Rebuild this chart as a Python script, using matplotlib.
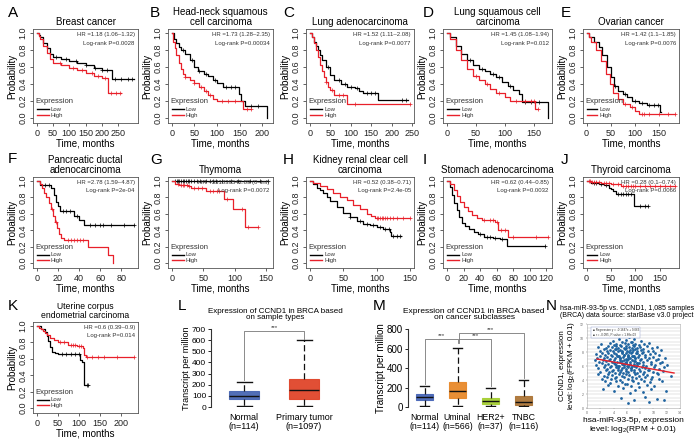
import numpy as np
import matplotlib
matplotlib.use("Agg")
import matplotlib.pyplot as plt

plt.rcParams['font.family'] = ['Liberation Sans', 'DejaVu Sans']
plt.rcParams['mathtext.fontset'] = 'custom'
plt.rcParams['mathtext.rm'] = 'Liberation Sans'

W, H = 695, 440
LOW_C = '#000000'
HIGH_C = '#e8202a'

# ---------------- KM data (time, survival steps, censor times) ----------------
breast_low_t = [0, 5, 10, 20, 30, 40, 50, 75, 100, 125, 150, 175, 200, 232, 300]
breast_low_s = [1, 0.98, 0.95, 0.88, 0.82, 0.76, 0.72, 0.69, 0.67, 0.645, 0.62, 0.59, 0.56, 0.46, 0.46]
breast_low_c = [60, 90, 120, 150, 180, 200, 215, 240, 260, 280, 295]
breast_high_t = [0, 5, 10, 20, 30, 40, 50, 75, 100, 125, 150, 175, 200, 218, 258]
breast_high_s = [1, 0.97, 0.93, 0.85, 0.77, 0.70, 0.65, 0.62, 0.59, 0.56, 0.53, 0.50, 0.47, 0.30, 0.30]
breast_high_c = [70, 110, 140, 170, 190, 210, 230, 245, 255]

hn_low_t = [0, 5, 10, 15, 20, 30, 40, 50, 58, 70, 80, 90, 100, 112, 148, 153, 162, 210]
hn_low_s = [1, 0.93, 0.88, 0.84, 0.80, 0.75, 0.68, 0.60, 0.55, 0.52, 0.49, 0.45, 0.41, 0.36, 0.28, 0.20, 0.14, 0.0]
hn_low_c = [25, 45, 60, 75, 95, 120, 130, 140, 175, 190]
hn_high_t = [0, 3, 6, 10, 15, 20, 25, 30, 40, 50, 60, 70, 80, 90, 100, 157, 175]
hn_high_s = [1, 0.90, 0.82, 0.74, 0.65, 0.58, 0.52, 0.48, 0.45, 0.41, 0.36, 0.32, 0.27, 0.22, 0.20, 0.10, 0.10]
hn_high_c = [30, 50, 65, 75, 85, 110, 125, 140, 165, 175]

luad_low_t = [0, 5, 10, 15, 20, 25, 30, 40, 50, 60, 75, 90, 110, 120, 130, 167, 240]
luad_low_s = [1, 0.95, 0.90, 0.85, 0.80, 0.74, 0.68, 0.60, 0.51, 0.45, 0.40, 0.37, 0.35, 0.32, 0.29, 0.21, 0.21]
luad_low_c = [45, 70, 85, 100, 115, 140, 150, 160, 225, 235]
luad_high_t = [0, 5, 10, 15, 20, 25, 30, 35, 40, 45, 50, 58, 90, 245]
luad_high_s = [1, 0.95, 0.88, 0.80, 0.72, 0.63, 0.55, 0.48, 0.42, 0.37, 0.33, 0.27, 0.17, 0.17]
luad_high_c = [40, 55, 70, 80, 110, 245]

lusc_low_t = [0, 5, 15, 25, 35, 45, 55, 65, 75, 85, 95, 105, 115, 125, 130, 175]
lusc_low_s = [1, 0.95, 0.85, 0.76, 0.68, 0.62, 0.58, 0.55, 0.52, 0.48, 0.43, 0.38, 0.33, 0.28, 0.19, 0.0]
lusc_low_c = [40, 60, 80, 90, 110, 135, 145, 160]
lusc_high_t = [0, 5, 15, 25, 35, 45, 55, 65, 75, 85, 100, 110, 152, 157]
lusc_high_s = [1, 0.93, 0.80, 0.68, 0.58, 0.50, 0.45, 0.40, 0.34, 0.29, 0.25, 0.20, 0.10, 0.10]
lusc_high_c = [50, 70, 90, 120, 135, 145, 150, 157]

ov_low_t = [0, 5, 15, 25, 33, 42, 50, 58, 65, 75, 85, 95, 110, 125, 152, 155]
ov_low_s = [1, 0.96, 0.90, 0.84, 0.74, 0.60, 0.48, 0.38, 0.32, 0.28, 0.25, 0.20, 0.18, 0.15, 0.07, 0.07]
ov_low_c = [60, 80, 100, 115, 130, 140, 148]
ov_high_t = [0, 5, 10, 20, 30, 40, 48, 55, 65, 75, 90, 100, 110, 185]
ov_high_s = [1, 0.96, 0.90, 0.80, 0.67, 0.52, 0.40, 0.30, 0.22, 0.17, 0.13, 0.08, 0.05, 0.05]
ov_high_c = [80, 95, 115, 120, 130, 150, 170, 185]

pa_low_t = [0, 3, 13, 16, 18, 20, 22, 35, 40, 45, 92]
pa_low_s = [1, 0.95, 0.91, 0.83, 0.75, 0.70, 0.64, 0.58, 0.52, 0.46, 0.46]
pa_low_c = [8, 11, 25, 28, 31, 38, 50, 55, 60, 63, 70, 82, 92]
pa_high_t = [0, 3, 5, 7, 9, 11, 13, 15, 17, 19, 21, 23, 26, 48, 67, 72]
pa_high_s = [1, 0.96, 0.91, 0.86, 0.80, 0.73, 0.66, 0.58, 0.50, 0.43, 0.36, 0.31, 0.28, 0.20, 0.10, 0.0]
pa_high_c = [14, 18, 29, 32, 35, 38, 41, 44]

thy_low_t = [0, 153]
thy_low_s = [1, 1]
thy_low_c = [5, 8, 10, 12, 15, 17, 20, 22, 25, 28, 30, 35, 40, 45, 55, 60, 65, 70, 80, 95, 105, 125, 140, 153]
thy_high_t = [0, 5, 12, 25, 30, 55, 83, 97, 117, 137]
thy_high_s = [1, 0.97, 0.95, 0.94, 0.92, 0.88, 0.78, 0.66, 0.44, 0.44]
thy_high_c = [10, 15, 18, 20, 24, 28, 35, 42, 48, 60, 65, 72, 75, 88, 112, 122, 137]

kid_low_t = [0, 5, 10, 15, 20, 25, 30, 40, 50, 60, 70, 80, 90, 100, 110, 120, 122, 137]
kid_low_s = [1, 0.96, 0.92, 0.89, 0.85, 0.80, 0.76, 0.68, 0.61, 0.56, 0.51, 0.48, 0.46, 0.44, 0.42, 0.38, 0.33, 0.33]
kid_low_c = [60, 75, 85, 95, 105, 112, 118, 125, 130, 135]
kid_high_t = [0, 5, 15, 25, 35, 45, 55, 65, 75, 85, 92, 98, 150]
kid_high_s = [1, 0.98, 0.94, 0.90, 0.86, 0.81, 0.77, 0.71, 0.66, 0.60, 0.57, 0.55, 0.55]
kid_high_c = [100, 102, 105, 108, 110, 113, 116, 120, 125, 130, 140, 150]

sto_low_t = [0, 3, 6, 9, 12, 15, 18, 22, 27, 32, 38, 45, 55, 64, 72, 118]
sto_low_s = [1, 0.93, 0.83, 0.73, 0.65, 0.56, 0.49, 0.45, 0.42, 0.38, 0.35, 0.32, 0.31, 0.29, 0.21, 0.21]
sto_low_c = [40, 48, 52, 58, 66, 118]
sto_high_t = [0, 4, 8, 12, 16, 20, 25, 30, 36, 42, 50, 58, 62, 74, 122]
sto_high_s = [1, 0.96, 0.89, 0.82, 0.75, 0.69, 0.63, 0.59, 0.55, 0.53, 0.52, 0.50, 0.40, 0.32, 0.32]
sto_high_c = [45, 52, 55, 60, 65, 70, 80, 108, 122]

thc_low_t = [0, 10, 25, 35, 45, 50, 55, 60, 98, 125]
thc_low_s = [1, 0.98, 0.97, 0.95, 0.92, 0.90, 0.88, 0.84, 0.70, 0.70]
thc_low_c = [15, 20, 30, 40, 65, 70, 75, 80, 85, 90, 110, 120, 125]
thc_high_t = [0, 10, 30, 50, 60, 70, 182]
thc_high_s = [1, 0.99, 0.98, 0.97, 0.96, 0.94, 0.94]
thc_high_c = [5, 8, 12, 15, 20, 25, 35, 40, 45, 55, 65, 75, 80, 85, 90, 95, 100, 110, 120,
              130, 140, 150, 160, 170, 182]

ut_low_t = [0, 10, 20, 23, 27, 31, 35, 42, 50, 103, 108, 111, 113, 122]
ut_low_s = [1, 0.97, 0.93, 0.88, 0.82, 0.75, 0.69, 0.67, 0.66, 0.59, 0.56, 0.45, 0.28, 0.28]
ut_low_c = [60, 70, 80, 90, 100, 118, 122]
ut_high_t = [0, 5, 10, 15, 20, 25, 30, 40, 50, 60, 75, 95, 110, 113, 116, 231]
ut_high_s = [1, 0.98, 0.96, 0.94, 0.92, 0.89, 0.86, 0.83, 0.81, 0.80, 0.77, 0.76, 0.73, 0.65, 0.62, 0.62]
ut_high_c = [55, 65, 80, 85, 90, 100, 105, 120, 130, 145, 160, 190, 231]

km_titles = ['Breast cancer', 'Head-neck squamous\ncell carcinoma', 'Lung adenocarcinoma',
             'Lung squamous cell\ncarcinoma', 'Ovarian cancer', 'Pancreatic ductal\nadenocarcinoma',
             'Thymoma', 'Kidney renal clear cell\ncarcinoma', 'Stomach adenocarcinoma',
             'Thyroid carcinoma', 'Uterine corpus\nendometrial carcinoma']
km_hr = ['HR =1.18 (1.06\u20131.32)', 'HR =1.73 (1.28\u20132.35)', 'HR =1.52 (1.11\u20132.08)',
         'HR =1.45 (1.08\u20131.94)', 'HR =1.42 (1.1\u20131.85)', 'HR =2.78 (1.59\u20134.87)',
         'HR =531839542.89 (0\u2013Inf)', 'HR =0.52 (0.38\u20130.71)', 'HR =0.62 (0.44\u20130.85)',
         'HR =0.28 (0.1\u20130.74)', 'HR =0.6 (0.39\u20130.9)']
km_p = ['Log-rank P=0.0028', 'Log-rank P=0.00034', 'Log-rank P=0.0077', 'Log-rank P=0.012',
        'Log-rank P=0.0076', 'Log-rank P=2e-04', 'Log-rank P=0.0072', 'Log-rank P=2.4e-05',
        'Log-rank P=0.0032', 'Log-rank P=0.0066', 'Log-rank P=0.014']
km_xmax = [300, 215, 245, 175, 185, 92, 155, 150, 122, 182, 231]
km_xstep = [50, 50, 50, 50, 50, 20, 50, 50, 20, 50, 50]
km_xtick_max = [250, 200, 250, 150, 150, 80, 150, 150, 120, 150, 200]
km_letters = ['A', 'B', 'C', 'D', 'E', 'F', 'G', 'H', 'I', 'J', 'K']

km_low = [(breast_low_t, breast_low_s, breast_low_c), (hn_low_t, hn_low_s, hn_low_c),
          (luad_low_t, luad_low_s, luad_low_c), (lusc_low_t, lusc_low_s, lusc_low_c),
          (ov_low_t, ov_low_s, ov_low_c), (pa_low_t, pa_low_s, pa_low_c),
          (thy_low_t, thy_low_s, thy_low_c), (kid_low_t, kid_low_s, kid_low_c),
          (sto_low_t, sto_low_s, sto_low_c), (thc_low_t, thc_low_s, thc_low_c),
          (ut_low_t, ut_low_s, ut_low_c)]
km_high = [(breast_high_t, breast_high_s, breast_high_c), (hn_high_t, hn_high_s, hn_high_c),
           (luad_high_t, luad_high_s, luad_high_c), (lusc_high_t, lusc_high_s, lusc_high_c),
           (ov_high_t, ov_high_s, ov_high_c), (pa_high_t, pa_high_s, pa_high_c),
           (thy_high_t, thy_high_s, thy_high_c), (kid_high_t, kid_high_s, kid_high_c),
           (sto_high_t, sto_high_s, sto_high_c), (thc_high_t, thc_high_s, thc_high_c),
           (ut_high_t, ut_high_s, ut_high_c)]

# ---------------- Box plot data ----------------
L_groups = ['Normal\n(n=114)', 'Primary tumor\n(n=1097)']
L_min = [12, 6]
L_q1 = [72, 75]
L_med = [102, 150]
L_q3 = [141, 250]
L_max = [228, 600]
L_colors = ['#4967b3', '#e0452a']

M_groups = ['Normal\n(n=114)', 'Uminal\n(n=566)', 'HER2+\n(n=37)', 'TNBC\n(n=116)']
M_min = [7, 7, 7, 7]
M_q1 = [68, 89, 31, 17]
M_med = [100, 168, 65, 56]
M_q3 = [137, 258, 89, 109]
M_max = [219, 608, 195, 278]
M_colors = ['#4967b8', '#e8892a', '#a6cf34', '#ad7638']

# ---------------- Scatter data (panel N) ----------------
mir_expr = [5.5, 6.3, 4.8, 7.0, 5.9, 3.9, 6.8, 8.1, 5.2,
            2.1, 3.5, 4.4, 5.0, 5.7, 6.2, 6.6, 7.3, 7.8, 8.6, 9.4, 4.0, 6.9,
            1.6, 2.8, 3.2, 3.8, 4.3, 4.7, 5.1, 5.5, 5.9, 6.3, 6.7, 7.1, 7.5, 8.0, 8.4, 9.0, 9.8, 10.5,
            1.9, 2.5, 3.0, 3.4, 3.9, 4.2, 4.6, 5.0, 5.3, 5.7, 6.0, 6.4, 6.8, 7.2, 7.6, 8.1, 8.5, 9.2, 9.9, 11.2,
            1.3, 2.2, 2.7, 3.1, 3.6, 4.0, 4.4, 4.8, 5.2, 5.6, 5.9, 6.2, 6.6, 7.0, 7.4, 7.8, 8.3, 8.8, 9.5, 10.2, 10.9,
            1.5, 2.0, 2.6, 3.0, 3.5, 3.8, 4.2, 4.6, 5.0, 5.4, 5.8, 6.1, 6.5, 6.9, 7.3, 7.7, 8.2, 8.7, 9.3, 10.0, 10.7, 11.8,
            1.2, 1.8, 2.4, 2.9, 3.3, 3.7, 4.1, 4.5, 4.9, 5.3, 5.7, 6.0, 6.4, 6.8, 7.2, 7.6, 8.0, 8.5, 9.1, 9.7, 10.4, 11.3,
            1.4, 2.2, 2.7, 3.1, 3.6, 4.0, 4.4, 4.8, 5.2, 5.6, 5.9, 6.3, 6.7, 7.1, 7.5, 7.9, 8.4, 8.9, 9.6, 10.3, 11.0, 12.1,
            1.7, 2.5, 3.0, 3.4, 3.9, 4.3, 4.7, 5.1, 5.5, 5.8, 6.2, 6.6, 7.0, 7.4, 7.8, 8.3, 8.8, 9.4, 10.1, 10.8, 11.6,
            2.0, 2.8, 3.3, 3.8, 4.2, 4.6, 5.0, 5.4, 5.8, 6.2, 6.6, 7.0, 7.5, 8.0, 8.6, 9.2, 9.9, 10.6, 11.5,
            1.6, 2.6, 3.2, 3.8, 4.3, 4.8, 5.3, 5.8, 6.3, 6.8, 7.3, 7.9, 8.5, 9.1, 9.8, 10.7, 12.6,
            2.2, 3.0, 3.6, 4.2, 4.9, 5.5, 6.1, 6.7, 7.4, 8.1, 8.8, 9.6, 10.9,
            2.7, 3.5, 4.4, 5.2, 6.0, 6.9, 7.7, 8.6, 9.5, 11.3,
            3.1, 4.6, 5.7, 6.6, 7.9, 9.0, 10.1,
            2.4, 4.0, 5.4, 6.4, 7.3, 8.4, 9.7, 11.9,
            5.1, 7.0, 8.8, 10.5, 6.2, 9.3, 11.6,
            4.5, 5.0, 5.6, 6.1, 6.7, 7.2, 4.2, 4.9, 5.4, 5.9, 6.5, 7.0, 7.6,
            4.4, 5.2, 5.8, 6.3, 6.9, 7.5, 4.7, 5.3, 6.0, 6.6, 7.1, 5.5, 6.2]
ccnd1_expr = [10.4, 10.1, 9.9, 9.8, 9.7, 9.6, 9.5, 9.6, 9.5,
              9.1, 9.3, 9.2, 9.0, 9.3, 9.1, 9.4, 9.2, 9.0, 9.1, 9.3, 9.0, 9.0,
              8.7, 8.6, 8.9, 8.7, 8.8, 8.6, 8.8, 8.6, 8.9, 8.7, 8.6, 8.8, 8.6, 8.7, 8.5, 8.8, 8.6, 8.7,
              8.2, 8.4, 8.1, 8.3, 8.2, 8.4, 8.1, 8.3, 8.0, 8.4, 8.1, 8.3, 8.0, 8.4, 8.2, 8.3, 8.0, 8.2, 8.1, 8.3,
              7.7, 7.9, 7.6, 7.8, 7.6, 7.9, 7.7, 7.5, 7.8, 7.6, 7.9, 7.6, 7.8, 7.5, 7.8, 7.6, 7.9, 7.6, 7.7, 7.9, 7.6,
              7.2, 7.4, 7.1, 7.3, 7.0, 7.4, 7.2, 7.4, 7.1, 7.3, 7.0, 7.4, 7.2, 7.4, 7.1, 7.3, 7.0, 7.3, 7.1, 7.3, 7.0, 7.2,
              6.8, 6.6, 6.9, 6.7, 6.9, 6.6, 6.8, 6.6, 6.9, 6.7, 6.5, 6.8, 6.6, 6.9, 6.7, 6.5, 6.8, 6.6, 6.9, 6.6, 6.8, 6.6,
              6.2, 6.4, 6.1, 6.3, 6.0, 6.4, 6.2, 6.0, 6.3, 6.1, 6.4, 6.2, 6.0, 6.3, 6.1, 6.4, 6.2, 6.0, 6.3, 6.1, 6.4, 6.2,
              5.7, 5.9, 5.6, 5.8, 5.5, 5.9, 5.7, 5.5, 5.8, 5.6, 5.9, 5.7, 5.5, 5.8, 5.6, 5.9, 5.7, 5.5, 5.8, 5.6, 5.9,
              5.2, 5.4, 5.1, 5.3, 5.0, 5.4, 5.2, 5.0, 5.3, 5.1, 5.4, 5.2, 5.0, 5.3, 5.1, 5.4, 5.2, 5.0, 5.3,
              4.8, 4.6, 4.9, 4.7, 4.5, 4.8, 4.6, 4.9, 4.7, 4.5, 4.8, 4.6, 4.9, 4.7, 4.5, 4.8, 4.6,
              4.2, 4.4, 4.1, 4.3, 4.0, 4.4, 4.2, 4.0, 4.3, 4.1, 4.4, 4.2, 4.1,
              3.8, 3.6, 3.9, 3.7, 3.5, 3.8, 3.6, 3.9, 3.7, 3.8,
              3.3, 3.1, 3.4, 3.2, 3.0, 3.3, 3.1,
              2.7, 2.4, 2.8, 2.2, 2.6, 2.3, 2.7, 2.5,
              1.5, 1.1, 1.6, 1.3, 0.7, 0.9, 1.2,
              7.45, 7.15, 7.55, 7.25, 7.45, 7.15, 6.35, 6.55, 6.25, 6.55, 6.35, 6.75, 6.45,
              8.45, 8.15, 8.55, 7.95, 8.25, 7.85, 5.95, 5.65, 6.05, 5.75, 5.95, 6.85, 7.05]
reg_x = [1.5, 13.1]
reg_y = [7.0, 5.0]


def rect(x0, y0, x1, y1):
    return [x0 / W, 1 - y1 / H, (x1 - x0) / W, (y1 - y0) / H]


fig = plt.figure(figsize=(W / 100, H / 100), dpi=100)

col_x = [(33, 138), (168, 273), (306, 414), (443, 552), (583, 679)]
row_y = [(29, 123), (177, 268), (322, 413)]
letter_pos = [(8, 13), (150, 13), (283, 13), (423, 13), (561, 13),
              (8, 159), (150, 160), (283, 160), (423, 160), (561, 160),
              (8, 306)]

for i in range(11):
    r, c = divmod(i, 5)
    x0, x1 = col_x[c]
    y0, y1 = row_y[r]
    ax = fig.add_axes(rect(x0, y0, x1, y1))
    xmax = km_xmax[i]
    for (t, s, cens), color in ((km_low[i], LOW_C), (km_high[i], HIGH_C)):
        ax.step(t, s, where='post', color=color, lw=0.9)
        t_arr = np.array(t)
        s_arr = np.array(s)
        idx = np.clip(np.searchsorted(t_arr, cens, side='right') - 1, 0, len(s_arr) - 1)
        ax.plot(cens, s_arr[idx], ls='none', marker='+', ms=2.6, mew=0.5, color=color)
    ax.set_xlim(-0.04 * xmax, 1.04 * xmax)
    ax.set_ylim(-0.06, 1.05)
    ax.set_xticks(np.arange(0, km_xtick_max[i] + 1, km_xstep[i]))
    ax.set_yticks([0, 0.2, 0.4, 0.6, 0.8, 1.0])
    ax.set_yticklabels(['0.0', '0.2', '0.4', '0.6', '0.8', '1.0'], rotation=90, va='center')
    ax.tick_params(direction='out', length=2.5, width=0.5, labelsize=6.5, pad=1.5,
                   colors='#222222')
    for sp in ax.spines.values():
        sp.set_linewidth(0.6)
        sp.set_color('#555555')
    ax.set_xlabel('Time, months', fontsize=7, labelpad=1)
    ax.set_ylabel('Probability', fontsize=7, labelpad=1)
    tsize = 6.2 if i == 10 else 7
    ax.set_title(km_titles[i], fontsize=tsize, pad=3, linespacing=1.0)
    ax.text(0.97, 0.94, km_hr[i], transform=ax.transAxes, ha='right', va='center',
            fontsize=4.3, color='#333333')
    ax.text(0.97, 0.85, km_p[i], transform=ax.transAxes, ha='right', va='center',
            fontsize=4.3, color='#333333')
    ax.text(0.025, 0.225, 'Expression', transform=ax.transAxes, ha='left', va='center',
            fontsize=5.5, color='#333333')
    for yy, lab, color in ((0.145, 'Low', LOW_C), (0.085, 'High', HIGH_C)):
        ax.plot([0.04, 0.15], [yy, yy], transform=ax.transAxes, color=color, lw=1.0)
        ax.text(0.17, yy, lab, transform=ax.transAxes, ha='left', va='center',
                fontsize=4.3, color='#333333')
    lx, ly = letter_pos[i]
    fig.text(lx / W, 1 - ly / H, km_letters[i], fontsize=11, ha='left', va='center')


def draw_boxes(ax, mins, q1s, meds, q3s, maxs, colors, width):
    stats = []
    for lo, a, m, b, hi in zip(mins, q1s, meds, q3s, maxs):
        stats.append(dict(whislo=lo, q1=a, med=m, q3=b, whishi=hi, fliers=[]))
    bp = ax.bxp(stats, positions=np.arange(1, len(stats) + 1), widths=width,
                patch_artist=True, showfliers=False,
                whiskerprops=dict(color='#111111', lw=0.9, ls=(0, (5, 2.5))),
                capprops=dict(color='#111111', lw=1.0),
                medianprops=dict(color='#111111', lw=1.0),
                boxprops=dict(lw=0.8))
    for patch, col in zip(bp['boxes'], colors):
        patch.set_facecolor(col)
        patch.set_edgecolor(col)
        patch.set_alpha(0.95)
    for cap in bp['caps']:
        xd = cap.get_xdata()
        mid = (xd[0] + xd[1]) / 2
        cap.set_xdata([mid - width * 0.25, mid + width * 0.25])


def style_box_axes(ax, labels, lsize, ysize):
    for k in ('top', 'right', 'bottom'):
        ax.spines[k].set_visible(False)
    ax.spines['left'].set_linewidth(0.8)
    ax.spines['left'].set_color('#333333')
    ax.set_xticks(np.arange(1, len(labels) + 1))
    ax.set_xticklabels(labels, fontsize=lsize, linespacing=1.1)
    ax.tick_params(axis='x', length=0, pad=4)
    ax.tick_params(axis='y', length=2.5, width=0.6, labelsize=ysize, pad=1)


# ---------------- Panel L ----------------
axL = fig.add_axes(rect(211, 329, 340, 407))
draw_boxes(axL, L_min, L_q1, L_med, L_q3, L_max, L_colors, 0.5)
axL.set_xlim(0.45, 2.6)
axL.set_ylim(0, 700)
axL.set_yticks(np.arange(0, 701, 100))
style_box_axes(axL, L_groups, 6.5, 6)
axL.set_ylabel('Transcript per million', fontsize=6.5, labelpad=1)
axL.set_title('Expression of CCND1 in BRCA based\non sample types', fontsize=5.8,
              pad=7, linespacing=0.95)
axL.plot([1, 1, 2, 2], [245, 680, 680, 611], color='#777777', lw=0.6, clip_on=False)
axL.text(1.5, 690, '***', ha='center', va='bottom', fontsize=4.5, color='#333333')
fig.text(178 / W, 1 - 306 / H, 'L', fontsize=11, ha='left', va='center')

# ---------------- Panel M ----------------
axM = fig.add_axes(rect(408, 329, 540, 407))
draw_boxes(axM, M_min, M_q1, M_med, M_q3, M_max, M_colors, 0.52)
axM.set_xlim(0.5, 4.5)
axM.set_ylim(0, 800)
axM.set_yticks(np.arange(0, 801, 200))
style_box_axes(axM, M_groups, 6.3, 7)
axM.set_ylabel('Transcript per million', fontsize=7, labelpad=1)
axM.set_title('Expression of CCND1 in BRCA based\non cancer subclasses', fontsize=6,
              pad=7, linespacing=0.95)
axM.plot([1, 1, 2, 2], [236, 697, 697, 656], color='#777777', lw=0.6, clip_on=False)
axM.text(1.5, 705, '***', ha='center', va='bottom', fontsize=4.5, color='#333333')
axM.plot([2.05, 2.05, 3, 3], [656, 697, 697, 212], color='#777777', lw=0.6, clip_on=False)
axM.text(2.55, 705, '***', ha='center', va='bottom', fontsize=4.5, color='#333333')
axM.plot([2.05, 2.05, 4, 4], [700, 760, 760, 297], color='#777777', lw=0.6, clip_on=False)
axM.text(3.0, 768, '***', ha='center', va='bottom', fontsize=4.5, color='#333333')
fig.text(373 / W, 1 - 306 / H, 'M', fontsize=11, ha='left', va='center')

# ---------------- Panel N ----------------
axN = fig.add_axes(rect(587, 324, 680, 408))
axN.set_xlim(0, 14)
axN.set_ylim(0, 12)
for yy in np.arange(0.5, 12, 0.5):
    axN.axhline(yy, color='#c8c8c8', lw=0.35, zorder=0)
axN.scatter(mir_expr, ccnd1_expr, s=4, color='#1f64a0', linewidths=0, zorder=2)
axN.plot(reg_x, reg_y, color='#e8202a', lw=1.0, zorder=3)
axN.set_xticks(np.arange(0, 15, 2))
axN.set_yticks(np.arange(0, 13, 2))
axN.tick_params(length=1, width=0.3, labelsize=2.5, pad=1, colors='#666666')
for sp in axN.spines.values():
    sp.set_linewidth(0.4)
    sp.set_color('#aaaaaa')
axN.text(0.06, 0.955, '\u25a0 Regression y = -0.1647x + 9.063\n\u25a0 r = -0.095, P-value = 1.88e-03',
         transform=axN.transAxes, ha='left', va='top', fontsize=2.2, color='#333333',
         bbox=dict(boxstyle='square,pad=0.4', fc='white', ec='#8899cc', lw=0.3), zorder=4)
fig.text(627 / W, 1 - 312 / H,
         'hsa-miR-93-5p vs. CCND1, 1,085 samples\n(BRCA) data source: starBase v3.0 project',
         fontsize=5.0, ha='center', va='center', linespacing=1.0)
axN.set_xlabel('hsa-miR-93-5p, expression\nlevel: log$_2$(RPM + 0.01)', fontsize=6.0,
               labelpad=1.5, linespacing=1.0)
axN.set_ylabel('CCND1, expression\nlevel: log$_2$(FPKM + 0.01)', fontsize=5.8,
               labelpad=2, linespacing=1.0)
fig.text(546 / W, 1 - 306 / H, 'N', fontsize=11, ha='left', va='center')

fig.savefig('out.png', dpi=100)
